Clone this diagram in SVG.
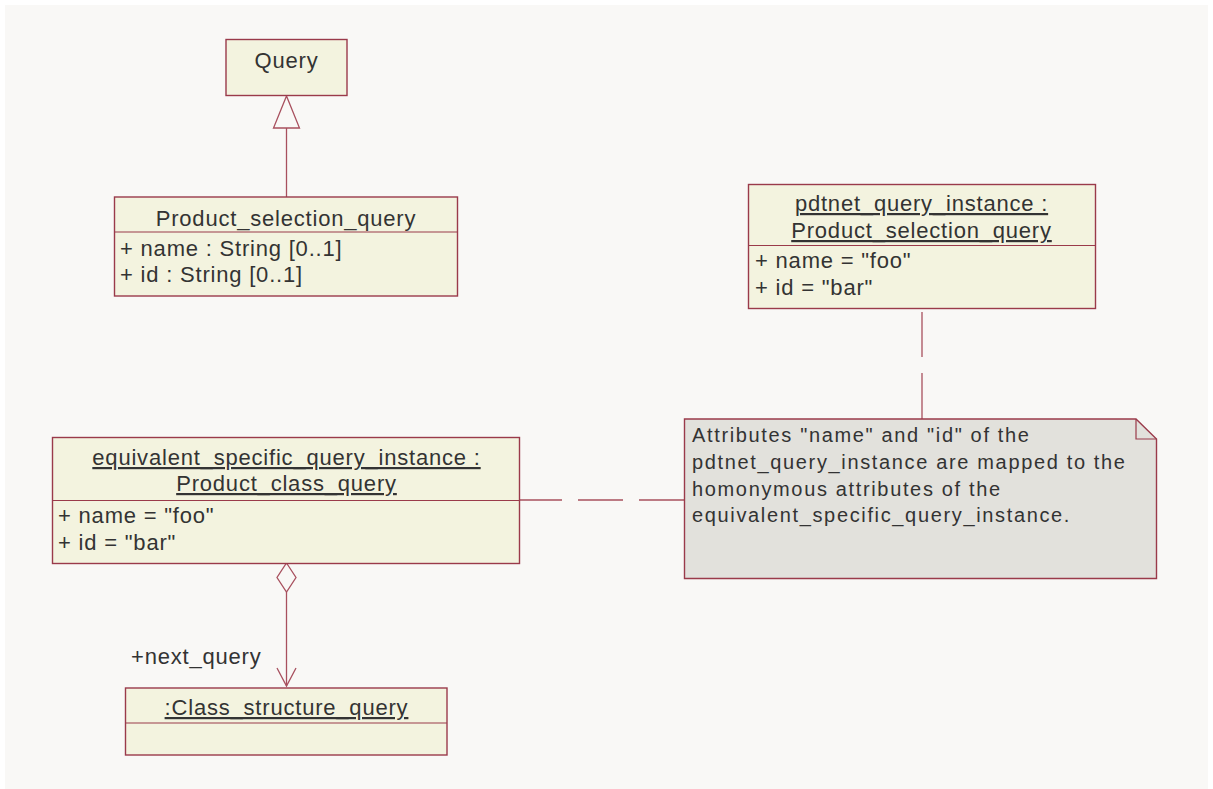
<svg xmlns="http://www.w3.org/2000/svg" width="1213" height="789" viewBox="0 0 1213 789">
<style>
.bg{fill:#F9F8F6}
.box{fill:#F3F3DF;stroke:#9A3A4A;stroke-width:1.4}
.note{fill:#E2E1DC;stroke:#9A3A4A;stroke-width:1.4}
.sep{stroke:#9A3A4A;stroke-width:1.2;fill:none}
.ln{stroke:#A8505E;stroke-width:1.3;fill:none}
.t{font-family:"Liberation Sans",Arial,sans-serif;font-size:22px;letter-spacing:0.8px;fill:#333333}
.c{text-anchor:middle}
.u{text-decoration:underline}
.n{font-family:"Liberation Sans",Arial,sans-serif;font-size:20px;letter-spacing:1.65px;fill:#333333}
</style>
<rect class="bg" x="5" y="5" width="1203" height="784"/>
<g id="connectors">
<line class="ln" x1="286.5" y1="128" x2="286.5" y2="197"/>
<polygon class="ln" points="286.5,96 273.5,128 299.5,128" style="fill:#F9F8F6"/>
<path class="ln" d="M922,312V357 M922,373V419"/>
<path class="ln" d="M520,500H562 M578,500H623 M639,500H684"/>
<polygon class="ln" points="286.5,563 296,577.5 286.5,592 277,577.5" style="fill:#F9F8F6"/>
<line class="ln" x1="286.5" y1="592" x2="286.5" y2="686"/>
<polyline class="ln" points="277,668 286.5,686 296,668"/>
<text class="t" x="131" y="664">+next_query</text>
</g>
<g id="query">
<rect class="box" x="226" y="39.5" width="121" height="56"/>
<text class="t c" x="286.5" y="68">Query</text>
</g>
<g id="product_selection_query">
<rect class="box" x="114.5" y="197" width="343" height="99"/>
<line class="sep" x1="114.5" y1="232" x2="457.5" y2="232"/>
<text class="t c" x="286" y="226">Product_selection_query</text>
<text class="t" x="120" y="256">+ name : String [0..1]</text>
<text class="t" x="120" y="282">+ id : String [0..1]</text>
</g>
<g id="pdtnet_query_instance">
<rect class="box" x="748.5" y="184.5" width="347" height="124"/>
<line class="sep" x1="748.5" y1="245.5" x2="1095.5" y2="245.5"/>
<text class="t c u" x="921.5" y="211">pdtnet_query_instance : </text>
<text class="t c u" x="921.5" y="238">Product_selection_query</text>
<text class="t" x="755" y="268">+ name = "foo"</text>
<text class="t" x="755" y="295">+ id = "bar"</text>
</g>
<g id="note">
<path class="note" d="M684.5,419H1136L1156.5,439V578.5H684.5Z"/>
<path class="sep" d="M1136,419V439H1156.5"/>
<text class="n" x="692" y="442">Attributes "name" and "id" of the</text>
<text class="n" x="692" y="469">pdtnet_query_instance are mapped to the</text>
<text class="n" x="692" y="496">homonymous attributes of the</text>
<text class="n" x="692" y="522">equivalent_specific_query_instance.</text>
</g>
<g id="equivalent_specific_query_instance">
<rect class="box" x="52.5" y="437.5" width="467" height="126"/>
<line class="sep" x1="52.5" y1="500.5" x2="519.5" y2="500.5"/>
<text class="t c u" x="286.5" y="465">equivalent_specific_query_instance : </text>
<text class="t c u" x="286.5" y="491">Product_class_query</text>
<text class="t" x="58" y="523">+ name = "foo"</text>
<text class="t" x="58" y="550">+ id = "bar"</text>
</g>
<g id="class_structure_query">
<rect class="box" x="125.5" y="688" width="321.5" height="67"/>
<line class="sep" x1="125.5" y1="723" x2="447" y2="723"/>
<text class="t c u" x="286.5" y="715">:Class_structure_query</text>
</g>
</svg>
